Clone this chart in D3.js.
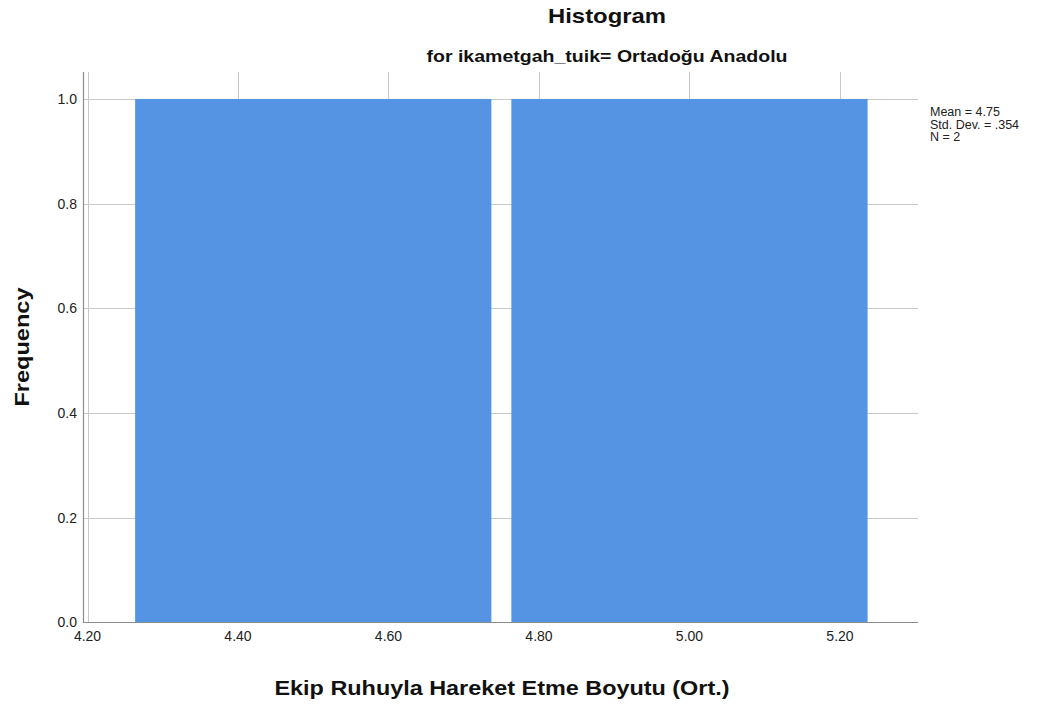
<!DOCTYPE html>
<html><head><meta charset="utf-8">
<script src="https://cdn.jsdelivr.net/npm/d3@7"></script>
<style>body{margin:0;background:#fff}svg{display:block}text{font-family:"Liberation Sans",Arial,sans-serif}</style>
</head><body>
<svg id="c" width="1053" height="704"></svg>
<script>
const binStarts = [4.25, 4.75];
const binEnds = [4.75, 5.25];
const frequencies = [1, 1];
const xTicks = [4.2, 4.4, 4.6, 4.8, 5.0, 5.2];
const yTicks = [0, 0.2, 0.4, 0.6, 0.8, 1.0];
const statsLines = ["Mean = 4.75", "Std. Dev. = .354", "N = 2"];

const svg = d3.select("#c");
const x = d3.scaleLinear().domain([4.2, 5.3037]).range([87.5, 918]);
const y = d3.scaleLinear().domain([0, 1.0515]).range([622.5, 72]);
const grid = "#c8c8c8";

// vertical gridlines
svg.append("g").selectAll("line").data(xTicks).join("line")
  .attr("x1", d => Math.round(x(d)) + 0.5).attr("x2", d => Math.round(x(d)) + 0.5)
  .attr("y1", 72).attr("y2", 622).attr("stroke", grid).attr("stroke-width", 1);
// horizontal gridlines
svg.append("g").selectAll("line").data(yTicks.filter(d => d > 0)).join("line")
  .attr("x1", 83).attr("x2", 918)
  .attr("y1", d => Math.round(y(d)) + 0.5).attr("y2", d => Math.round(y(d)) + 0.5)
  .attr("stroke", grid).attr("stroke-width", 1);

// bars
const bins = binStarts.map((s, i) => ({s, e: binEnds[i], f: frequencies[i]}));
const inset = 10;
svg.append("g").selectAll("rect").data(bins).join("rect")
  .attr("x", d => x(d.s) + inset)
  .attr("width", d => x(d.e) - x(d.s) - 2 * inset)
  .attr("y", d => y(d.f))
  .attr("height", d => y(0) - y(d.f))
  .attr("fill", "#5594E3");

// axes lines
svg.append("line").attr("x1", 83.5).attr("x2", 83.5).attr("y1", 72).attr("y2", 623)
  .attr("stroke", "#8c8c8c").attr("stroke-width", 1.2);
svg.append("line").attr("x1", 83).attr("x2", 918).attr("y1", 622.5).attr("y2", 622.5)
  .attr("stroke", "#8c8c8c").attr("stroke-width", 1.2);

// y tick labels
svg.append("g").selectAll("text").data(yTicks).join("text")
  .attr("x", 77).attr("y", d => y(d)).attr("dy", "0.35em")
  .attr("text-anchor", "end").attr("font-size", 14).attr("fill", "#222")
  .text(d => d3.format(".1f")(d));
// x tick labels
svg.append("g").selectAll("text").data(xTicks).join("text")
  .attr("x", d => x(d)).attr("y", 641)
  .attr("text-anchor", "middle").attr("font-size", 14).attr("fill", "#222")
  .text(d => d3.format(".2f")(d));

// titles
svg.append("text").attr("x", 607).attr("y", 23).attr("text-anchor", "middle")
  .attr("font-size", 21).attr("font-weight", "bold").attr("fill", "#111")
  .attr("textLength", 118).attr("lengthAdjust", "spacingAndGlyphs").text("Histogram");
svg.append("text").attr("x", 607).attr("y", 62).attr("text-anchor", "middle")
  .attr("font-size", 17).attr("font-weight", "bold").attr("fill", "#111")
  .attr("textLength", 361).attr("lengthAdjust", "spacingAndGlyphs").text("for ikametgah_tuik= Ortadoğu Anadolu");
svg.append("text").attr("x", 502).attr("y", 695).attr("text-anchor", "middle")
  .attr("font-size", 21).attr("font-weight", "bold").attr("fill", "#111")
  .attr("textLength", 455).attr("lengthAdjust", "spacingAndGlyphs").text("Ekip Ruhuyla Hareket Etme Boyutu (Ort.)");
svg.append("text").attr("transform", "translate(29,347) rotate(-90)").attr("text-anchor", "middle")
  .attr("font-size", 21).attr("font-weight", "bold").attr("fill", "#111")
  .attr("textLength", 119).attr("lengthAdjust", "spacingAndGlyphs").text("Frequency");

// stats
svg.append("g").selectAll("text").data(statsLines).join("text")
  .attr("x", 930).attr("y", (d, i) => 116 + i * 12.5)
  .attr("font-size", 12.5).attr("fill", "#222").text(d => d);
</script>
</body></html>
